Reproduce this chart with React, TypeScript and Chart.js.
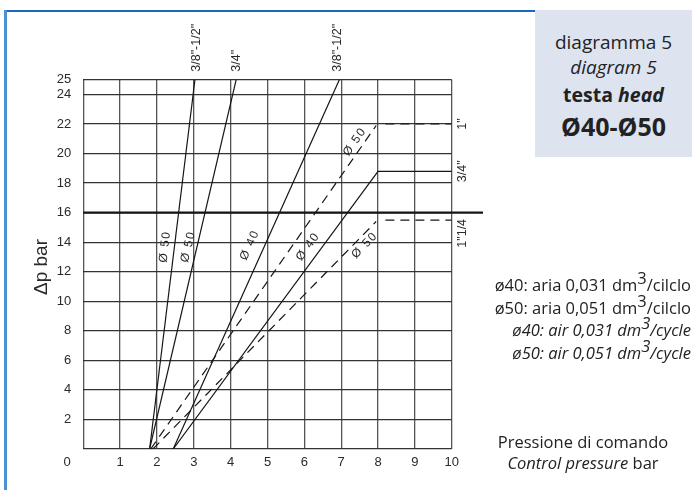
import React, { useEffect, useRef } from "react";
import { Chart, registerables } from "chart.js";

Chart.register(...registerables);

// ---- data ----
const xTicks = [0, 1, 2, 3, 4, 5, 6, 7, 8, 9, 10];
const yTicks = [0, 2, 4, 6, 8, 10, 12, 14, 16, 18, 20, 22, 24, 25];

// solid lines (Ø50 / Ø40)
const d50_38 = [{ x: 1.8, y: 0 }, { x: 3.03, y: 25 }];
const d50_34 = [{ x: 1.8, y: 0 }, { x: 4.15, y: 25 }];
const d40_38 = [{ x: 2.44, y: 0 }, { x: 6.95, y: 25 }];
const d40_34 = [{ x: 2.44, y: 0 }, { x: 8.0, y: 18.8 }, { x: 10, y: 18.8 }];
// dashed lines (Ø50)
const d50_1 = [{ x: 1.83, y: 0 }, { x: 7.95, y: 21.9 }];
const d50_1h = [{ x: 8.2, y: 22 }, { x: 10, y: 22 }];
const d50_114 = [{ x: 1.89, y: 0 }, { x: 7.95, y: 15.4 }];
const d50_114h = [{ x: 8.2, y: 15.5 }, { x: 10, y: 15.5 }];
// reference line at 16 bar
const ref16 = [{ x: 0, y: 16 }, { x: 10.85, y: 16 }];

const topLabels = [
  { text: '3/8"-1/2"', x: 3.08 },
  { text: '3/4"', x: 4.16 },
  { text: '3/8"-1/2"', x: 6.9 },
];
const rightLabels = [
  { text: '1"', y: 22.0 },
  { text: '3/4"', y: 18.8 },
  { text: '1"1/4', y: 14.6 },
];
const diamLabels = [
  { text: "Ø 50", x: 2.22, y: 13.7, line: d50_38 },
  { text: "Ø 50", x: 2.85, y: 13.7, line: d50_34 },
  { text: "Ø 40", x: 4.52, y: 13.8, line: d40_38 },
  { text: "Ø 40", x: 6.1, y: 13.7, line: d40_34 },
  { text: "Ø 50", x: 7.37, y: 20.8, line: d50_1 },
  { text: "Ø 50", x: 7.64, y: 13.8, line: d50_114 },
];

const FONT = "'Liberation Sans', Arial, Helvetica, sans-serif";

const textPlugin = {
  id: "texts",
  afterDraw(chart: any) {
    const ctx = chart.ctx;
    const xs = chart.scales.x;
    const ys = chart.scales.y;
    const top = chart.chartArea.top;
    const right = chart.chartArea.right;
    ctx.save();
    ctx.fillStyle = "#2a2a2a";
    // origin label
    ctx.font = `13px ${FONT}`;
    ctx.textAlign = "center";
    ctx.textBaseline = "middle";
    ctx.fillText("0", 67, ys.getPixelForValue(0) + 13);

    // y axis title
    ctx.save();
    ctx.translate(42, 267);
    ctx.rotate(-Math.PI / 2);
    ctx.font = `19px ${FONT}`;
    ctx.fillText("Δp bar", 0, 0);
    ctx.restore();

    // top labels
    ctx.font = `12.5px ${FONT}`;
    for (const l of topLabels) {
      ctx.save();
      ctx.translate(xs.getPixelForValue(l.x), top - 8);
      ctx.rotate(-Math.PI / 2);
      ctx.textAlign = "left";
      ctx.textBaseline = "middle";
      ctx.fillText(l.text, 0, 0);
      ctx.restore();
    }
    // right labels
    for (const l of rightLabels) {
      ctx.save();
      ctx.translate(right + 11, ys.getPixelForValue(l.y));
      ctx.rotate(-Math.PI / 2);
      ctx.textAlign = "center";
      ctx.textBaseline = "middle";
      ctx.fillText(l.text, 0, 0);
      ctx.restore();
    }
    // diameter labels along lines
    ctx.font = `12px ${FONT}`;
    (ctx as any).letterSpacing = "1.5px";
    for (const l of diamLabels) {
      const a = l.line[0];
      const b = l.line[1];
      const ang = Math.atan2(
        ys.getPixelForValue(b.y) - ys.getPixelForValue(a.y),
        xs.getPixelForValue(b.x) - xs.getPixelForValue(a.x)
      );
      ctx.save();
      ctx.translate(xs.getPixelForValue(l.x), ys.getPixelForValue(l.y));
      ctx.rotate(ang);
      ctx.textAlign = "center";
      ctx.textBaseline = "middle";
      ctx.fillText(l.text, 0, 0);
      ctx.restore();
    }
    ctx.restore();
  },
};

function mk(data: any[], dashed: boolean, width = 1.2, clip: any = undefined) {
  const ds: any = {
    data,
    showLine: true,
    pointRadius: 0,
    borderColor: "#151515",
    borderWidth: width,
    borderDash: dashed ? [9, 6] : [],
    fill: false,
    tension: 0,
  };
  if (clip !== undefined) ds.clip = clip;
  return ds;
}

export default function App() {
  const ref = useRef<HTMLCanvasElement | null>(null);
  useEffect(() => {
    if (!ref.current) return;
    const chart = new Chart(ref.current, {
      type: "scatter",
      data: {
        datasets: [
          mk(d50_38, false),
          mk(d50_34, false),
          mk(d40_38, false),
          mk(d40_34, false),
          mk(d50_1, true),
          mk(d50_1h, true),
          mk(d50_114, true),
          mk(d50_114h, true),
          mk(ref16, false, 2.2, false),
        ],
      },
      options: {
        responsive: false,
        animation: false,
        events: [],
        layout: { padding: { left: 0, top: 79.7, right: 244.3, bottom: 0 } },
        plugins: { legend: { display: false }, tooltip: { enabled: false } },
        scales: {
          x: {
            type: "linear",
            min: 0,
            max: 10,
            afterBuildTicks: (s: any) => {
              s.ticks = xTicks.map((v) => ({ value: v }));
            },
            afterFit: (s: any) => {
              s.height = 41;
            },
            ticks: {
              autoSkip: false,
              maxRotation: 0,
              padding: 6,
              color: "#2a2a2a",
              font: { family: FONT, size: 13 },
              callback: (v: any) => (v === 0 ? "" : String(v)),
            },
            grid: { color: "#555", lineWidth: 1.3, drawTicks: false },
            border: { display: false },
          },
          y: {
            type: "linear",
            min: 0,
            max: 25,
            afterBuildTicks: (s: any) => {
              s.ticks = yTicks.map((v) => ({ value: v }));
            },
            afterFit: (s: any) => {
              s.width = 83.3;
            },
            ticks: {
              autoSkip: false,
              padding: 12,
              color: "#2a2a2a",
              font: { family: FONT, size: 13 },
              callback: (v: any) => (v === 0 ? "" : String(v)),
            },
            grid: { color: "#333", lineWidth: 1.3, drawTicks: false },
            border: { display: false },
          },
        },
      },
      plugins: [textPlugin],
    });
    return () => chart.destroy();
  }, []);

  const sans = "'Open Sans', 'Noto Sans', sans-serif";
  const abs = (s: any) => ({ position: "absolute" as const, whiteSpace: "nowrap" as const, ...s });
  const sup = { fontSize: "1em", verticalAlign: "0.42em", lineHeight: 0 };

  return (
    <div style={{ position: "fixed", left: 0, top: 0, width: 696, height: 490, background: "#fff", overflow: "hidden", fontFamily: sans, color: "#222" }}>
      <canvas ref={ref} width={696} height={490} style={{ position: "absolute", left: 0, top: 0 }} />
      {/* frame */}
      <div style={abs({ left: 4, top: 10, width: 531, height: 2, background: "#1d68bb" })} />
      <div style={abs({ left: 4, top: 10, width: 2.5, height: 480, background: "#4d8fd4" })} />
      {/* title box */}
      <div style={abs({ left: 535, top: 10, width: 157, height: 147, background: "#dee3f0" })} />
      <div style={abs({ left: 535, width: 157, top: 29, textAlign: "center", fontSize: 19, lineHeight: "26px" })}>diagramma 5</div>
      <div style={abs({ left: 535, width: 157, top: 54, textAlign: "center", fontSize: 19, lineHeight: "26px", fontStyle: "italic" })}>diagram 5</div>
      <div style={abs({ left: 535, width: 157, top: 82, textAlign: "center", fontSize: 19.5, lineHeight: "26px", fontWeight: 700 })}>
        testa <i>head</i>
      </div>
      <div style={abs({ left: 535, width: 157, top: 110, textAlign: "center", fontSize: 25, lineHeight: "32px", fontWeight: 700 })}>Ø40-Ø50</div>
      {/* air consumption */}
      <div style={abs({ right: 5, top: 274, textAlign: "right", fontSize: 16.5, lineHeight: "22.5px" })}>
        <div>ø40: aria 0,031 dm<span style={sup}>3</span>/cilclo</div>
        <div>ø50: aria 0,051 dm<span style={sup}>3</span>/cilclo</div>
        <div style={{ fontStyle: "italic" }}>ø40: air 0,031 dm<span style={sup}>3</span>/cycle</div>
        <div style={{ fontStyle: "italic" }}>ø50: air 0,051 dm<span style={sup}>3</span>/cycle</div>
      </div>
      {/* x axis title */}
      <div style={abs({ left: 483, width: 200, top: 431, textAlign: "center", fontSize: 16.5, lineHeight: "21px" })}>
        <div>Pressione di comando</div>
        <div>
          <i>Control pressure</i> bar
        </div>
      </div>
    </div>
  );
}
